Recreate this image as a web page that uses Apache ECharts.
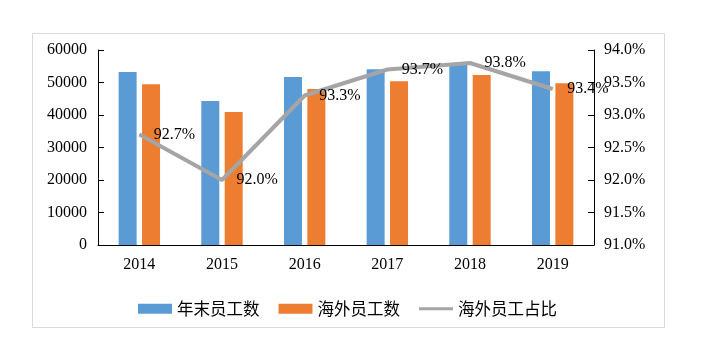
<!DOCTYPE html>
<html><head><meta charset="utf-8">
<script src="https://cdn.jsdelivr.net/npm/echarts@6/dist/echarts.min.js"></script>
<style>html,body{margin:0;padding:0;background:#fff}#c{width:715px;height:341px}</style>
</head><body><div id="c"></div>
<script>
const categories = ['2014','2015','2016','2017','2018','2019'];
const totalStaff = [53200, 44300, 51700, 54100, 55700, 53500];
const overseasStaff = [49500, 40900, 48000, 50400, 52300, 49800];
const overseasRatio = [92.7, 92.0, 93.3, 93.7, 93.8, 93.4];
const seriesNames = ['年末员工数', '海外员工数', '海外员工占比'];

const serif = '"Liberation Serif", "Times New Roman", serif';
const cjk = '"Noto Sans CJK SC", sans-serif';
const lineIcon = 'path://M0,0h0.01v0.01h-0.01zM0,3.5h36v3.2h-36zM35.99,9.99h0.01v0.01h-0.01z';
const chart = echarts.init(document.getElementById('c'), null, {renderer: 'canvas'});
chart.setOption({
  animation: false,
  backgroundColor: '#fff',
  graphic: [{
    type: 'rect', left: 30, top: 31, z: -1,
    shape: {width: 632, height: 294},
    style: {fill: 'none', stroke: '#d9d9d9', lineWidth: 1}
  }],
  grid: {left: 98, right: 121, top: 50, bottom: 96},
  legend: {
    bottom: 19, left: 133,
    itemWidth: 34, itemHeight: 10, itemGap: 19,
    textStyle: {fontFamily: cjk, fontSize: 16.5, color: '#000'},
    data: [
      {name: seriesNames[0], icon: 'rect'},
      {name: seriesNames[1], icon: 'rect'},
      {name: seriesNames[2], icon: lineIcon}
    ]
  },
  xAxis: {
    type: 'category', data: categories,
    axisLine: {lineStyle: {color: '#000', width: 1}},
    axisTick: {inside: true, length: 6, lineStyle: {color: '#000'}},
    axisLabel: {fontFamily: serif, fontSize: 16, color: '#000', margin: 12}
  },
  yAxis: [{
    type: 'value', min: 0, max: 60000, interval: 10000,
    axisLine: {show: true, lineStyle: {color: '#000'}},
    axisTick: {show: true, inside: true, length: 6, lineStyle: {color: '#000'}},
    splitLine: {show: false},
    axisLabel: {fontFamily: serif, fontSize: 16, color: '#000', margin: 11,
      formatter: v => String(v)}
  }, {
    type: 'value', min: 91, max: 94, interval: 0.5, position: 'right',
    axisLine: {show: true, lineStyle: {color: '#000'}},
    axisTick: {show: true, inside: true, length: 6, lineStyle: {color: '#000'}},
    splitLine: {show: false},
    axisLabel: {fontFamily: serif, fontSize: 16, color: '#000', margin: 10,
      formatter: v => v.toFixed(1) + '%'}
  }],
  series: [{
    name: seriesNames[0], type: 'bar', data: totalStaff,
    barWidth: 18, barGap: '30%',
    itemStyle: {color: '#5B9BD5'}
  }, {
    name: seriesNames[1], type: 'bar', data: overseasStaff,
    barWidth: 18,
    itemStyle: {color: '#ED7D31'}
  }, {
    name: seriesNames[2], type: 'line', yAxisIndex: 1, data: overseasRatio,
    symbol: 'circle', symbolSize: 1, showSymbol: true, z: 5,
    lineStyle: {color: '#A5A5A5', width: 4},
    itemStyle: {color: '#A5A5A5'},
    label: {show: true, position: 'right', distance: 14,
      fontFamily: serif, fontSize: 16, color: '#000',
      formatter: p => p.value.toFixed(1) + '%'}
  }]
});
</script></body></html>
